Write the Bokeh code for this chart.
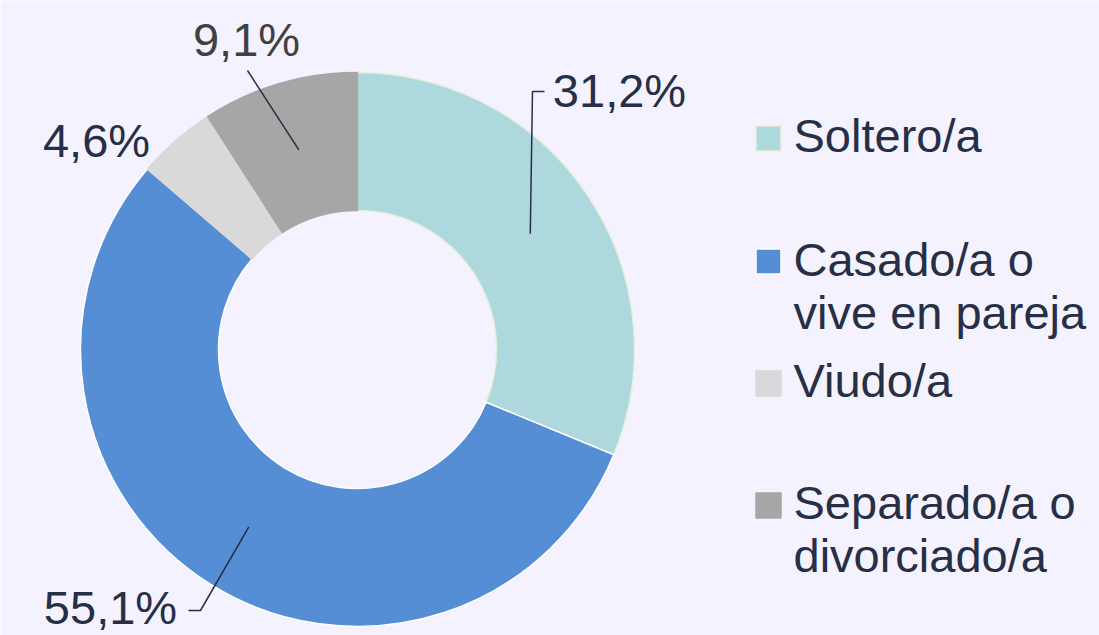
import numpy as np
from bokeh.plotting import figure
from bokeh.models import Range1d, ColumnDataSource
from bokeh.core.properties import value
from bokeh.embed import file_html
from bokeh.resources import INLINE

# ---- data ----
categories = ["Soltero/a", "Casado/a o vive en pareja", "Viudo/a", "Separado/a o divorciado/a"]
legend_lines = [["Soltero/a"], ["Casado/a o", "vive en pareja"], ["Viudo/a"], ["Separado/a o", "divorciado/a"]]
values = [31.2, 55.1, 4.6, 9.1]
colors = ["#ADD8DD", "#558ED5", "#D9D9D9", "#A6A6A6"]
edge_colors = ["#E8EFD8", "#FFFFFF", "#D9D9D9", "#A6A6A6"]
label_colors = ["#262F45", "#262F45", "#262F45", "#404040"]

BG = "#F4F2FE"
TXT = "#262F45"
FONT = "Liberation Sans"

W, H = 1099, 635
p = figure(width=W, height=H, x_range=Range1d(0, W), y_range=Range1d(0, H),
           output_backend="svg", toolbar_location=None, min_border=0,
           background_fill_color=BG, border_fill_color=BG)
p.axis.visible = False
p.grid.visible = False
p.outline_line_color = None

OFF = 0
TXT_SHIFT = 18  # empirical baseline correction


def sx(X):
    return X - OFF


def sy(Y):
    return H - (Y - OFF)


cx, cy = sx(357), sy(349)
r_out, r_in = 277, 139

vals = np.array(values, dtype=float)
frac = vals / vals.sum()
cum = np.concatenate([[0], np.cumsum(frac)])
start = np.pi / 2 - cum[:-1] * 2 * np.pi
end = np.pi / 2 - cum[1:] * 2 * np.pi
mid = (start + end) / 2

src = ColumnDataSource(dict(start=start, end=end, color=colors, edge=edge_colors))
p.annular_wedge(x=cx, y=cy, inner_radius=r_in, outer_radius=r_out,
                start_angle="start", end_angle="end", direction="clock",
                fill_color="color", line_color="edge", line_width=1.5, source=src)

# labels and leader lines
labels = [f"{v:.1f}".replace(".", ",") + "%" for v in values]
label_pos = [(619, 108), (110, 625), (96, 158), (246, 57)]
leader_paths = [[(532, 91), (544, 91)], [(200, 610), (188, 610)], None, [(247, 70)]]
r_mid = (r_out + r_in) / 2
for i in range(len(values)):
    lx, ly = label_pos[i]
    p.text(x=[sx(lx)], y=[sy(ly - TXT_SHIFT)], text=[labels[i]], text_align="center",
           text_baseline="alphabetic", text_font=value(FONT),
           text_font_size="47px", text_color=label_colors[i])
    if leader_paths[i] is not None:
        ax = cx + r_mid * np.cos(mid[i])
        ay = cy + r_mid * np.sin(mid[i])
        xs = [ax] + [sx(a) for a, b in leader_paths[i]]
        ys = [ay] + [sy(b) for a, b in leader_paths[i]]
        p.line(xs, ys, line_color=TXT, line_width=1.5)

# legend
sq_centers = [138, 261, 383, 505]
text_baselines = [[153], [277, 330], [398], [520, 573]]
for i in range(len(categories)):
    p.rect(x=[sx(768)], y=[sy(sq_centers[i])], width=25, height=25,
           fill_color=colors[i], line_color=edge_colors[i], line_width=1.5)
    for line, bl in zip(legend_lines[i], text_baselines[i]):
        p.text(x=[sx(793)], y=[sy(bl - TXT_SHIFT)], text=[line], text_align="left",
               text_baseline="alphabetic", text_font=value(FONT),
               text_font_size="47px", text_color=TXT)

html = file_html(p, INLINE)
html = html.replace("<body>", f'<body style="background:{BG}">', 1)
open("out.html", "w").write(html)
